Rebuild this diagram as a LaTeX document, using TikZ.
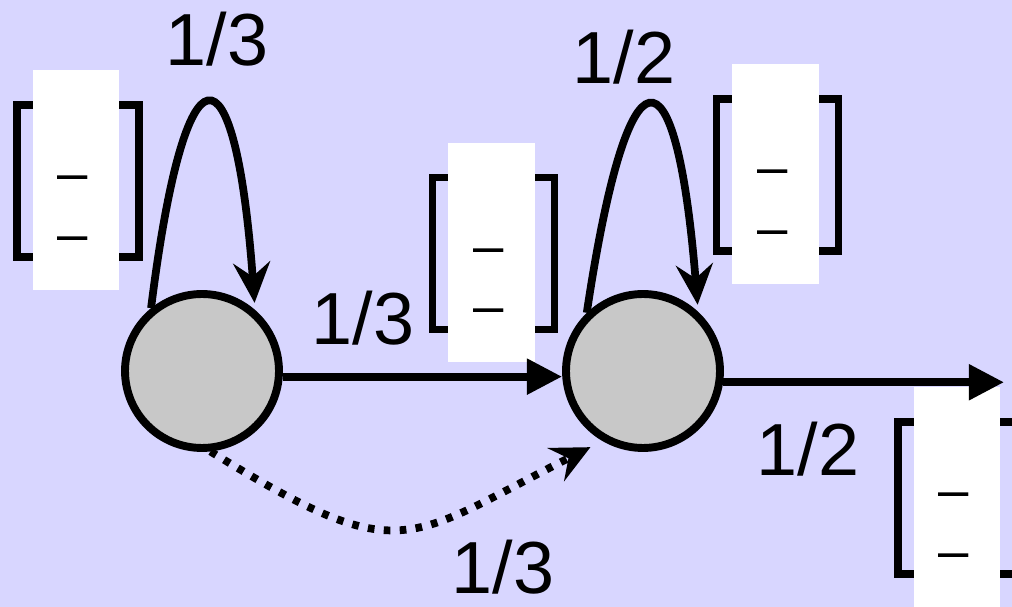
\documentclass[tikz,border=0pt]{standalone}
\usepackage{fontspec}
\setmainfont{Liberation Sans}
\usetikzlibrary{arrows.meta,calc}
\definecolor{bgc}{RGB}{216,214,255}
\definecolor{stategray}{RGB}{200,200,200}
\begin{document}
\begin{tikzpicture}[x=0.02cm,y=-0.02cm,
  stnode/.style={circle,draw=black,fill=stategray,line width=4.5pt,minimum size=3.08cm,inner sep=0pt},
  lbl/.style={font=\fontsize{42}{50}\selectfont,inner sep=0pt},
  conn/.style={line width=4.4pt},
  loopconn/.style={conn,shorten >=4pt,-{Stealth[length=23pt,width=21pt,inset=8pt]}},
  flowconn/.style={conn,-{Triangle[length=20pt,width=19.5pt]}},
  dotconn/.style={conn,dash pattern=on 3.8pt off 5.3pt,-{Stealth[length=22pt,width=21pt,inset=8pt]}},
  bracketline/.style={line width=4.5pt,line join=miter},
  matentry/.style={font=\fontsize{31}{31}\selectfont,inner sep=0pt,anchor=base},
  probmat/.pic={
    \draw[bracketline] (-33,-75) -- (-59,-75) -- (-59,77) -- (-33,77);
    \draw[bracketline] (33,-75) -- (63,-75) -- (63,77) -- (33,77);
    \node[fill=white,minimum width=1.74cm,minimum height=4.4cm,inner sep=0pt] (-box) at (0,0) {};
    \node[matentry] (-top) at (-3,12) {–};
    \node[matentry] (-bot) at (-3,72.5) {–};
  }
]
\useasboundingbox (0,0) rectangle (1012,607);
\clip (0,0) rectangle (1012,607);
\fill[bgc] (0,0) rectangle (1012,607);

% transition matrices
\pic (m1) at (76,180) {probmat};
\pic (m2) at (491.5,252.5) {probmat};
\pic (m3) at (775.5,174) {probmat};
\pic (m4) at (957,497) {probmat};

% states
\node[stnode] (c1) at (202,371) {};
\node[stnode] (c2) at (643,371) {};
\coordinate (exit) at (1004,383);

% transitions
\draw[loopconn] (c1.129) .. controls (185,36) and (235,36) .. (c1.49);
\draw[loopconn] (c2.134) .. controls (628,38) and (676,38) .. (c2.47);
\draw[flowconn] (c1.-4) -- (c1.-4 -| c2.west);
\draw[flowconn] (c2.-8) -- (c2.-8 -| exit);
\draw[dotconn,shorten >=7.7pt] (c1.-84) .. controls (403,570) and (404,541) .. (c2.-120);

% probabilities
\node[lbl] (l1) at (217,39) {1/3};
\node[lbl] (l2) at (363,318) {1/3};
\node[lbl] (l3) at (624,57) {1/2};
\node[lbl] (l4) at (808,449) {1/2};
\node[lbl] (l5) at (503,567) {1/3};
\end{tikzpicture}
\end{document}
